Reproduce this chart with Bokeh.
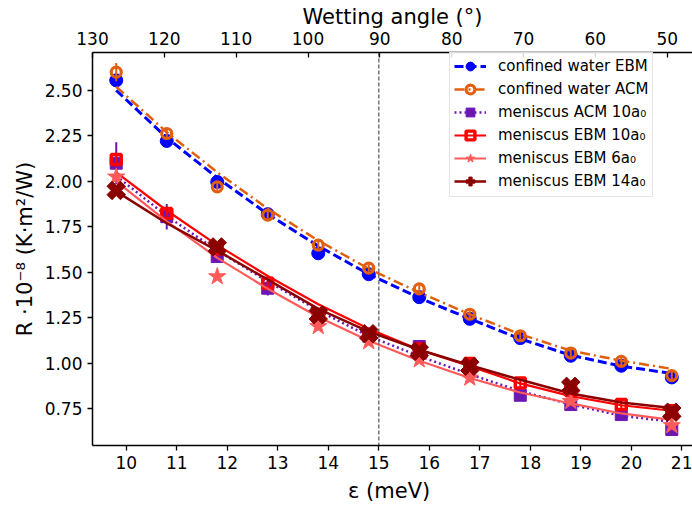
import numpy as np
from math import pi
from bokeh.plotting import figure
from bokeh.models import (Range1d, LinearAxis, FixedTicker, Span, Legend, LegendItem,
                          ColumnDataSource, NumeralTickFormatter)
from bokeh.embed import file_html
from bokeh.resources import INLINE

# ---------------- data ----------------
eps = [9.8, 10.8, 11.8, 12.8, 13.8, 14.8, 15.8, 16.8, 17.8, 18.8, 19.8, 20.8]

cw_ebm = [2.555, 2.222, 1.997, 1.820, 1.605, 1.490, 1.364, 1.245, 1.139, 1.042, 0.987, 0.923]
cw_ebm_err = [0.02] * 12
cw_ebm_fit = [2.500, 2.240, 2.020, 1.820, 1.645, 1.490, 1.360, 1.245, 1.135, 1.045, 0.985, 0.945]

cw_acm = [2.600, 2.263, 1.970, 1.815, 1.650, 1.523, 1.409, 1.270, 1.152, 1.057, 1.011, 0.933]
cw_acm_err = [0.05, 0.02, 0.02, 0.02, 0.02, 0.02, 0.02, 0.02, 0.02, 0.02, 0.02, 0.02]
cw_acm_fit = [2.520, 2.270, 2.050, 1.850, 1.675, 1.520, 1.390, 1.270, 1.160, 1.070, 1.015, 0.970]

men_acm10 = [2.100, 1.806, 1.587, 1.413, 1.260, 1.150, 1.093, 0.980, 0.825, 0.774, 0.719, 0.637]
men_acm10_err = [0.115, 0.07, 0.03, 0.04, 0.02, 0.02, 0.02, 0.02, 0.02, 0.02, 0.02, 0.02]
men_acm10_fit = [2.030, 1.810, 1.620, 1.450, 1.290, 1.150, 1.040, 0.940, 0.848, 0.775, 0.712, 0.680]

men_ebm10 = [2.120, 1.824, 1.630, 1.440, 1.270, 1.160, 1.080, 1.000, 0.893, 0.850, 0.774, 0.740]
men_ebm10_err = [0.03] * 12
men_ebm10_fit = [2.050, 1.840, 1.650, 1.480, 1.325, 1.190, 1.075, 0.985, 0.890, 0.820, 0.770, 0.740]

eps_sub = [9.8, 11.8, 13.8, 14.8, 15.8, 16.8, 18.8, 20.8]
men_ebm6 = [2.025, 1.477, 1.203, 1.120, 1.020, 0.920, 0.792, 0.659]
men_ebm6_fit = [2.000, 1.780, 1.580, 1.410, 1.255, 1.125, 1.015, 0.920, 0.840, 0.780, 0.725, 0.690]

men_ebm14 = [1.950, 1.640, 1.267, 1.163, 1.066, 0.984, 0.874, 0.732]
men_ebm14_fit = [1.945, 1.770, 1.620, 1.460, 1.300, 1.175, 1.075, 0.990, 0.910, 0.835, 0.785, 0.755]

x_ticks = [10, 11, 12, 13, 14, 15, 16, 17, 18, 19, 20, 21]
y_ticks = [0.75, 1.00, 1.25, 1.50, 1.75, 2.00, 2.25, 2.50]
angle_ticks = [130, 120, 110, 100, 90, 80, 70, 60, 50]
eps_ref = 15

# ---------------- styles ----------------
BLUE = "#0000ff"
ORANGE = "#e0600f"
PURPLE = "#6c16b4"
RED = "#ff0000"
SALMON = "#ff5a5a"
DARKRED = "#8b0000"
FONT = "DejaVu Sans"

p = figure(width=692, height=505,
           x_range=Range1d(9.33, 21.21), y_range=Range1d(0.549, 2.708),
           output_backend="svg", toolbar_location=None,
           min_border_left=92, min_border_top=52, min_border_right=0, min_border_bottom=59)
p.outline_line_color = None
p.grid.visible = False
p.background_fill_color = "white"
p.border_fill_color = "white"

bottom = p.xaxis[0]
left = p.yaxis[0]

p.extra_x_ranges = {"angle": Range1d(130, 46.48)}
top = LinearAxis(x_range_name="angle", ticker=FixedTicker(ticks=angle_ticks),
                 axis_label="Wetting angle (°)")
p.add_layout(top, "above")

bottom.ticker = FixedTicker(ticks=x_ticks)
bottom.axis_label = "ε  (meV)"
left.ticker = FixedTicker(ticks=y_ticks)
left.formatter = NumeralTickFormatter(format="0.00")
left.axis_label = "R ·10⁻⁸ (K·m²/W)"

for ax in (bottom, left, top):
    ax.axis_line_width = 1.5
    ax.axis_line_color = "black"
    ax.major_tick_line_width = 1.3
    ax.major_tick_line_color = "black"
    ax.minor_tick_line_color = None
    ax.major_label_text_font = FONT
    ax.major_label_text_font_size = "17px"
    ax.major_label_text_color = "black"
    ax.axis_label_text_font = FONT
    ax.axis_label_text_font_size = "21px"
    ax.axis_label_text_font_style = "normal"
    ax.axis_label_text_color = "black"
    ax.major_tick_out = 5
    ax.major_tick_in = 0
    ax.major_label_standoff = 5
    ax.axis_label_standoff = 4

bottom.axis_label_standoff = 7
left.axis_label_standoff = 5
top.major_tick_in = 5
top.major_tick_out = 0
top.major_label_standoff = 8
top.axis_label_standoff = 0

x = np.array(eps)
xs = np.array(eps_sub)

# confined water EBM
src = ColumnDataSource(dict(x=x, y=cw_ebm, lo=np.array(cw_ebm) - cw_ebm_err, hi=np.array(cw_ebm) + cw_ebm_err))
l_ebm = p.line(x, cw_ebm_fit, line_color=BLUE, line_width=3, line_dash="9 4")
p.segment("x", "lo", "x", "hi", source=src, line_color=BLUE, line_width=2)
m_ebm = p.scatter("x", "y", source=src, marker="circle", size=13, fill_color=BLUE, line_color=BLUE)

# confined water ACM (thick-edged open circle)
src = ColumnDataSource(dict(x=x, y=cw_acm, lo=np.array(cw_acm) - cw_acm_err, hi=np.array(cw_acm) + cw_acm_err))
l_acm = p.line(x, cw_acm_fit, line_color=ORANGE, line_width=2.5, line_dash="10 4 2 4")
p.segment("x", "lo", "x", "hi", source=src, line_color=ORANGE, line_width=2)
m_acm = p.scatter("x", "y", source=src, marker="circle", size=10, fill_color=None,
                  line_color=ORANGE, line_width=3.2)

# meniscus ACM 10a0
src = ColumnDataSource(dict(x=x, y=men_acm10, lo=np.array(men_acm10) - men_acm10_err,
                            hi=np.array(men_acm10) + men_acm10_err))
l_pa = p.line(x, men_acm10_fit, line_color=PURPLE, line_width=2.5, line_dash="2 3")
p.segment("x", "lo", "x", "hi", source=src, line_color=PURPLE, line_width=2)
m_pa = p.scatter("x", "y", source=src, marker="square", size=12, fill_color=PURPLE, line_color=PURPLE)

# meniscus EBM 10a0 (thick-edged open square)
src = ColumnDataSource(dict(x=x, y=men_ebm10, lo=np.array(men_ebm10) - men_ebm10_err,
                            hi=np.array(men_ebm10) + men_ebm10_err))
l_r = p.line(x, men_ebm10_fit, line_color=RED, line_width=2.2)
p.segment("x", "lo", "x", "hi", source=src, line_color=RED, line_width=2)
m_r = p.scatter("x", "y", source=src, marker="square", size=10, fill_color=None,
                line_color=RED, line_width=3.4)

# meniscus EBM 6a0
l_s = p.line(x, men_ebm6_fit, line_color=SALMON, line_width=2.2)
m_s = p.scatter(xs, men_ebm6, marker="star", size=18, fill_color=SALMON, line_color=SALMON)

# meniscus EBM 14a0
l_d = p.line(x, men_ebm14_fit, line_color=DARKRED, line_width=2.5)
m_d = p.scatter(xs, men_ebm14, marker="plus", angle=pi / 4, size=19, fill_color=DARKRED,
                line_color=DARKRED)

p.add_layout(Span(location=eps_ref, dimension="height", line_color="#333333",
                  line_width=1, line_dash="4 2"))

legend = Legend(items=[
    LegendItem(label="confined water EBM", renderers=[l_ebm, m_ebm]),
    LegendItem(label="confined water ACM", renderers=[l_acm, m_acm]),
    LegendItem(label="meniscus ACM 10a₀", renderers=[l_pa, m_pa]),
    LegendItem(label="meniscus EBM 10a₀", renderers=[l_r, m_r]),
    LegendItem(label="meniscus EBM 6a₀", renderers=[l_s, m_s]),
    LegendItem(label="meniscus EBM 14a₀", renderers=[l_d, m_d]),
], location=(357, 248))
legend.label_text_font = FONT
legend.label_text_font_size = "15px"
legend.label_text_color = "black"
legend.glyph_width = 32
legend.glyph_height = 22
legend.label_height = 22
legend.spacing = 1
legend.padding = 4
legend.margin = 0
legend.label_standoff = 12
legend.border_line_color = "#cccccc"
legend.border_line_width = 1
legend.background_fill_alpha = 0.85
p.add_layout(legend, "center")

open("out.html", "w").write(file_html(p, INLINE))
